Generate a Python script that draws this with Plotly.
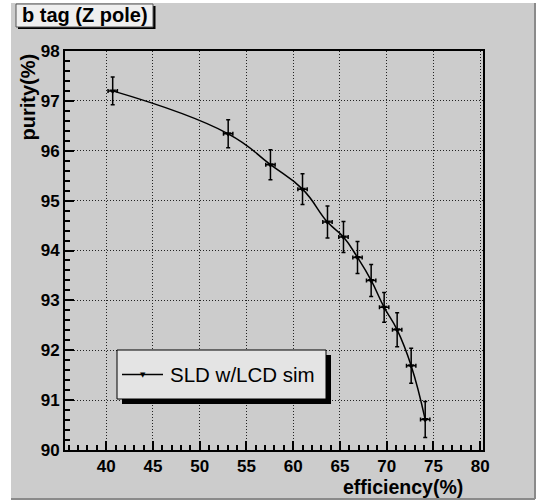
import plotly.graph_objects as go

efficiency = [40.7, 53.05, 57.57, 61.0, 63.67, 65.38, 66.88, 68.34, 69.73, 71.12, 72.62, 74.12]
purity = [97.2, 96.34, 95.72, 95.23, 94.57, 94.27, 93.86, 93.40, 92.86, 92.41, 91.69, 90.61]
purity_err = [0.28, 0.28, 0.30, 0.31, 0.32, 0.31, 0.32, 0.32, 0.30, 0.34, 0.35, 0.36]
eff_err = [0.5] * len(efficiency)
x_ticks = [40, 45, 50, 55, 60, 65, 70, 75, 80]
y_ticks = [90, 91, 92, 93, 94, 95, 96, 97, 98]
title_text = "b tag (Z pole)"
legend_text = "SLD w/LCD sim"
x_title = "efficiency(%)"
y_title = "purity(%)"

W, H = 538, 502
L, R, T, B = 65, 483, 51, 450
PW, PH = R - L, B - T

def px(x):
    return (x - L) / PW

def py(y):
    return (B - y) / PH

FONT = "Liberation Sans, Arial, sans-serif"

fig = go.Figure()
fig.add_trace(go.Scatter(
    x=efficiency, y=purity,
    mode="lines+markers",
    line=dict(color="black", width=1.5, shape="spline", smoothing=1.3),
    marker=dict(symbol="triangle-down", size=6, color="black"),
    error_y=dict(type="data", array=purity_err, color="black", thickness=1.5, width=2),
    error_x=dict(type="data", array=eff_err, color="black", thickness=1.5, width=2),
    showlegend=False,
))

shapes = []
# canvas
shapes.append(dict(type="rect", xref="paper", yref="paper", layer="below",
                   x0=px(11), x1=px(535), y0=py(3), y1=py(499),
                   fillcolor="#cccccc", line=dict(width=0)))
shapes.append(dict(type="line", xref="paper", yref="paper", layer="below",
                   x0=px(535), x1=px(535), y0=py(3), y1=py(499),
                   line=dict(color="#8a8a8a", width=2)))
shapes.append(dict(type="line", xref="paper", yref="paper", layer="below",
                   x0=px(11), x1=px(535), y0=py(499), y1=py(499),
                   line=dict(color="#8a8a8a", width=2)))
# title box shadow + box
shapes.append(dict(type="rect", xref="paper", yref="paper", layer="above",
                   x0=px(18), x1=px(155.5), y0=py(6), y1=py(29),
                   fillcolor="black", line=dict(width=0)))
shapes.append(dict(type="rect", xref="paper", yref="paper", layer="above",
                   x0=px(16), x1=px(153), y0=py(4), y1=py(27),
                   fillcolor="#efefef", line=dict(color="#555555", width=1)))
# legend box shadow + box
shapes.append(dict(type="rect", xref="paper", yref="paper", layer="above",
                   x0=px(122), x1=px(331), y0=py(355), y1=py(404),
                   fillcolor="black", line=dict(width=0)))
shapes.append(dict(type="rect", xref="paper", yref="paper", layer="above",
                   x0=px(117), x1=px(326), y0=py(350), y1=py(399),
                   fillcolor="#e4e4e4", line=dict(color="black", width=1)))
shapes.append(dict(type="line", xref="paper", yref="paper", layer="above",
                   x0=px(122), x1=px(163), y0=py(374.5), y1=py(374.5),
                   line=dict(color="black", width=1.5)))

annotations = [
    dict(text=f"<b>{title_text}</b>", xref="paper", yref="paper",
         x=px(20), y=py(15.5), xanchor="left", yanchor="middle", showarrow=False,
         font=dict(family=FONT, size=20, color="black")),
    dict(text=legend_text, xref="paper", yref="paper",
         x=px(168), y=py(374.5), xanchor="left", yanchor="middle", showarrow=False,
         font=dict(family=FONT, size=20.5, color="black")),
    dict(text="▼", xref="paper", yref="paper",
         x=px(142.5), y=py(375), xanchor="center", yanchor="middle", showarrow=False,
         font=dict(family="DejaVu Sans", size=7, color="black")),
    dict(text=f"<b>{x_title}</b>", xref="paper", yref="paper",
         x=px(465), y=py(487), xanchor="right", yanchor="middle", showarrow=False,
         font=dict(family=FONT, size=19.5, color="black")),
    dict(text=f"<b>{y_title}</b>", xref="paper", yref="paper", textangle=-90,
         x=px(27), y=py(52), xanchor="center", yanchor="top", showarrow=False,
         font=dict(family=FONT, size=20, color="black")),
]

axis_common = dict(
    showline=True, mirror=True, linecolor="black", linewidth=2,
    ticks="inside", ticklen=9, tickwidth=1.5, tickcolor="black",
    showgrid=True, gridcolor="#222222", gridwidth=1, griddash="1px,2px",
    zeroline=False,
    tickfont=dict(family=FONT, size=17, color="black", weight="bold"),
)

fig.update_layout(
    width=W, height=H,
    margin=dict(l=L, r=W - R, t=T, b=H - B, pad=0),
    paper_bgcolor="white", plot_bgcolor="white",
    shapes=shapes, annotations=annotations,
    xaxis=dict(range=[35.6, 80.3], tickvals=x_ticks, ticktext=[str(v) for v in x_ticks],
               minor=dict(dtick=1, ticks="inside", ticklen=5, tickcolor="black", showgrid=False),
               **axis_common),
    yaxis=dict(range=[90, 98], tickvals=y_ticks, ticktext=[str(v) for v in y_ticks],
               minor=dict(dtick=0.2, ticks="inside", ticklen=5, tickcolor="black", showgrid=False),
               **axis_common),
)

fig.write_html("out.html", config={"displayModeBar": False},
               post_script="document.body.style.margin='0';document.body.style.padding='0';document.body.style.overflow='hidden';")
